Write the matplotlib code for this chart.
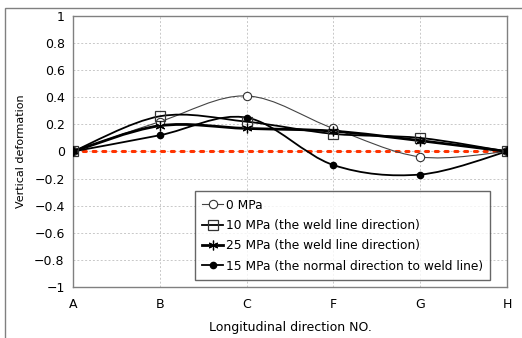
import matplotlib
matplotlib.use('Agg')
import matplotlib.pyplot as plt
from matplotlib.path import Path
from matplotlib.patches import PathPatch, Rectangle
from matplotlib.lines import Line2D
from matplotlib.ticker import FuncFormatter, MultipleLocator
import numpy as np

plt.rcParams['font.family'] = ['DejaVu Sans']

# Data
stations = ['A', 'B', 'C', 'F', 'G', 'H']
labels = ['0 MPa',
          '10 MPa (the weld line direction)',
          '25 MPa (the weld line direction)',
          '15 MPa (the normal direction to weld line)']
mpa_0 = [0.0, 0.22, 0.41, 0.17, -0.04, 0.0]
mpa_10 = [0.0, 0.26, 0.22, 0.13, 0.10, 0.0]
mpa_25 = [0.0, 0.19, 0.17, 0.15, 0.08, 0.0]
mpa_15n = [0.0, 0.12, 0.25, -0.10, -0.17, 0.0]


def smooth_path(xs, ys):
    """Excel-like smoothed line: cubic Bezier through every point."""
    pts = np.column_stack([xs, ys]).astype(float)
    ext = np.vstack([pts[0], pts, pts[-1]])
    verts, codes = [pts[0]], [Path.MOVETO]
    for i in range(len(pts) - 1):
        p0, p1, p2, p3 = ext[i], ext[i + 1], ext[i + 2], ext[i + 3]
        verts += [p1 + (p2 - p0) / 6.0, p2 - (p3 - p1) / 6.0, p2]
        codes += [Path.CURVE4] * 3
    return Path(verts, codes)


fig = plt.figure(figsize=(5.22, 3.38), dpi=100)
ax = fig.add_axes([0.1398, 0.1509, 0.8315, 0.8018])

# gray outer frame of the chart area (runs off the right and bottom edges)
fig.patches.append(Rectangle((5 / 522, -0.1), 1.2, 1 - 8 / 338 + 0.1,
                             transform=fig.transFigure, fill=False,
                             edgecolor='#808080', linewidth=1.0))

x = np.arange(len(stations))
series = [
    (mpa_0, dict(marker='o', markersize=6, markerfacecolor='white',
                 markeredgecolor='#333333', markeredgewidth=0.8), 0.8, '#444444'),
    (mpa_10, dict(marker='s', markersize=7, markerfacecolor='none',
                  markeredgecolor='#333333', markeredgewidth=0.9), 1.3, 'black'),
    (mpa_25, dict(marker=(6, 2, 0), markersize=7, markeredgecolor='black',
                  markeredgewidth=0.9), 2.0, 'black'),
    (mpa_15n, dict(marker='o', markersize=4.5, markerfacecolor='black',
                   markeredgecolor='black'), 1.3, 'black'),
]

# zero reference line
ax.axhline(0, color='#ff3300', linestyle=(0, (1, 2.2)), linewidth=2.2,
           dash_capstyle='round', zorder=2)

handles = []
for (vals, mk, lw, col), lab in zip(series, labels):
    ax.add_patch(PathPatch(smooth_path(x, vals), fill=False,
                           edgecolor=col, linewidth=lw, zorder=3))
    ax.plot(x, vals, linestyle='none', zorder=4, **mk)
    handles.append(Line2D([], [], color=col, linewidth=lw, **mk))

ax.set_xlim(0, len(stations) - 1)
ax.set_ylim(-1, 1)
ax.set_xticks(x)
ax.set_xticklabels(stations)
ax.yaxis.set_major_locator(MultipleLocator(0.2))
ax.yaxis.set_major_formatter(
    FuncFormatter(lambda v, p: ('%g' % round(v, 1)).replace('-', '\u2212')))
ax.tick_params(axis='both', length=0, labelsize=9, colors='black')
ax.tick_params(axis='x', pad=8)
ax.tick_params(axis='y', pad=6)
ax.grid(True, color='#c8c8c8', linestyle=(0, (2, 2)), linewidth=0.7)
ax.set_axisbelow(True)
for s in ax.spines.values():
    s.set_color('#808080')
    s.set_linewidth(1.0)

ax.set_ylabel('Vertical deformation', fontsize=8, labelpad=6)
ax.set_xlabel('Longitudinal direction NO.', fontsize=9, labelpad=7)

leg = ax.legend(handles, labels, loc='lower right',
                bbox_to_anchor=(0.961, 0.026), borderaxespad=0,
                fontsize=8.8, frameon=True,
                fancybox=False, edgecolor='#404040', handlelength=1.7,
                handletextpad=0.2, labelspacing=0.6, borderpad=0.6)
leg.get_frame().set_linewidth(1.0)

fig.savefig('out.png', dpi=100)
